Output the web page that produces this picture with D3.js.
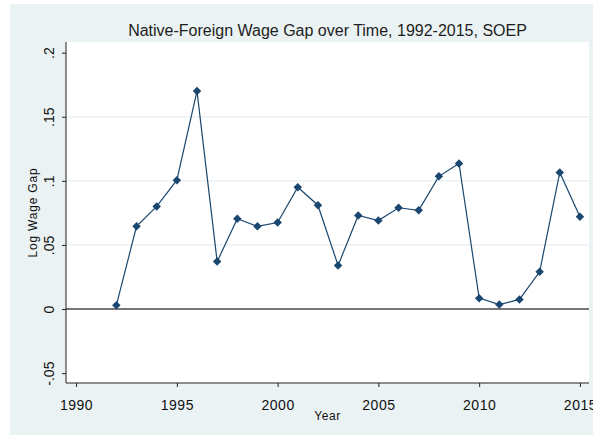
<!DOCTYPE html>
<html>
<head>
<meta charset="utf-8">
<script src="https://cdn.jsdelivr.net/npm/d3@7"></script>
<style>
  body { margin: 0; background: #fff; }
  text { font-family: "Liberation Sans", Arial, sans-serif; }
</style>
</head>
<body>
<svg class="chart"></svg>
<script>
const TITLE = 'Native-Foreign Wage Gap over Time, 1992-2015, SOEP'
const years = [1992, 1993, 1994, 1995, 1996, 1997, 1998, 1999, 2000, 2001, 2002, 2003,
    2004, 2005, 2006, 2007, 2008, 2009, 2010, 2011, 2012, 2013, 2014, 2015]
const wageGap = [0.003, 0.0645, 0.080, 0.1005, 0.170, 0.037, 0.0705, 0.0645, 0.0675, 0.095, 0.081, 0.034,
    0.073, 0.069, 0.079, 0.077, 0.1035, 0.1135, 0.0085, 0.0035, 0.0075, 0.029, 0.1065, 0.072]
const xTicks = [1990, 1995, 2000, 2005, 2010, 2015]
const yTicks = [-0.05, 0, 0.05, 0.1, 0.15, 0.2]
const yTickLabels = ['-.05', '0', '.05', '.1', '.15', '.2']

const width = 593
const height = 435
const plot = { left: 66, right: 589, top: 42, bottom: 383 }

const svg = d3.select('.chart')
    .attr('width', width)
    .attr('height', height)

// graph region
svg.append('rect')
    .attr('x', 10).attr('y', 4)
    .attr('width', width - 10).attr('height', height - 4)
    .attr('fill', '#eaf2f3')

svg.append('rect')
    .attr('x', plot.left).attr('y', plot.top)
    .attr('width', plot.right - plot.left).attr('height', plot.bottom - plot.top)
    .attr('fill', '#fff')

const x = d3.scaleLinear()
    .domain([1989.5, 2015.45])
    .range([plot.left, plot.right])

const y = d3.scaleLinear()
    .domain([-0.0577, 0.2083])
    .range([plot.bottom, plot.top])

// grid lines at inner ticks
svg.selectAll('.grid')
    .data([0.05, 0.1, 0.15])
    .enter().append('line')
    .attr('class', 'grid')
    .attr('x1', plot.left).attr('x2', plot.right)
    .attr('y1', d => y(d)).attr('y2', d => y(d))
    .attr('stroke', '#eaf2f3')
    .attr('stroke-width', 1.5)

// zero line
svg.append('line')
    .attr('x1', plot.left).attr('x2', plot.right)
    .attr('y1', y(0)).attr('y2', y(0))
    .attr('stroke', '#4a4a4a')
    .attr('stroke-width', 1.6)

const xAxis = d3.axisBottom(x)
    .tickValues(xTicks)
    .tickFormat(d3.format('d'))
    .tickSize(4)
    .tickSizeOuter(0)

const yAxis = d3.axisLeft(y)
    .tickValues(yTicks)
    .tickFormat((d, i) => yTickLabels[i])
    .tickSize(4)
    .tickSizeOuter(0)

const gx = svg.append('g')
    .attr('transform', `translate(0,${plot.bottom})`)
    .call(xAxis)
gx.select('.domain').attr('d', `M${plot.left},0H${plot.right}`)
gx.selectAll('line, path').attr('stroke', '#222')
gx.selectAll('text')
    .attr('fill', '#111')
    .style('font-size', '14px')
    .style('letter-spacing', '0.5px')
    .attr('y', 17)

const gy = svg.append('g')
    .attr('transform', `translate(${plot.left},0)`)
    .call(yAxis)
gy.select('.domain').attr('d', `M0,${plot.top}V${plot.bottom}`)
gy.selectAll('line, path').attr('stroke', '#222')
gy.selectAll('text')
    .attr('fill', '#111')
    .style('font-size', '14px')
    .attr('x', null).attr('dy', null)
    .attr('text-anchor', 'middle')
    .attr('transform', 'translate(-12,0) rotate(-90)')

// series
const line = d3.line()
    .x((d, i) => x(years[i]))
    .y(d => y(d))

svg.append('path')
    .datum(wageGap)
    .attr('d', line)
    .attr('fill', 'none')
    .attr('stroke', '#1a476f')
    .attr('stroke-width', 1.2)

svg.selectAll('.marker')
    .data(wageGap)
    .enter().append('path')
    .attr('class', 'marker')
    .attr('transform', (d, i) => `translate(${x(years[i])},${y(d)})`)
    .attr('d', d3.symbol(d3.symbolDiamond2, 46))
    .attr('fill', '#1a476f')

// titles
svg.append('text')
    .attr('x', (plot.left + plot.right) / 2)
    .attr('y', 36)
    .attr('text-anchor', 'middle')
    .style('font-size', '16px')
    .attr('fill', '#1e1e1e')
    .text(TITLE)

svg.append('text')
    .attr('x', (plot.left + plot.right) / 2)
    .attr('y', 420)
    .attr('text-anchor', 'middle')
    .style('font-size', '12px')
    .style('letter-spacing', '0.6px')
    .attr('fill', '#111')
    .text('Year')

svg.append('text')
    .attr('transform', `translate(37,${(plot.top + plot.bottom) / 2}) rotate(-90)`)
    .attr('text-anchor', 'middle')
    .style('font-size', '12px')
    .style('letter-spacing', '0.8px')
    .attr('fill', '#111')
    .text('Log Wage Gap')
</script>
</body>
</html>
